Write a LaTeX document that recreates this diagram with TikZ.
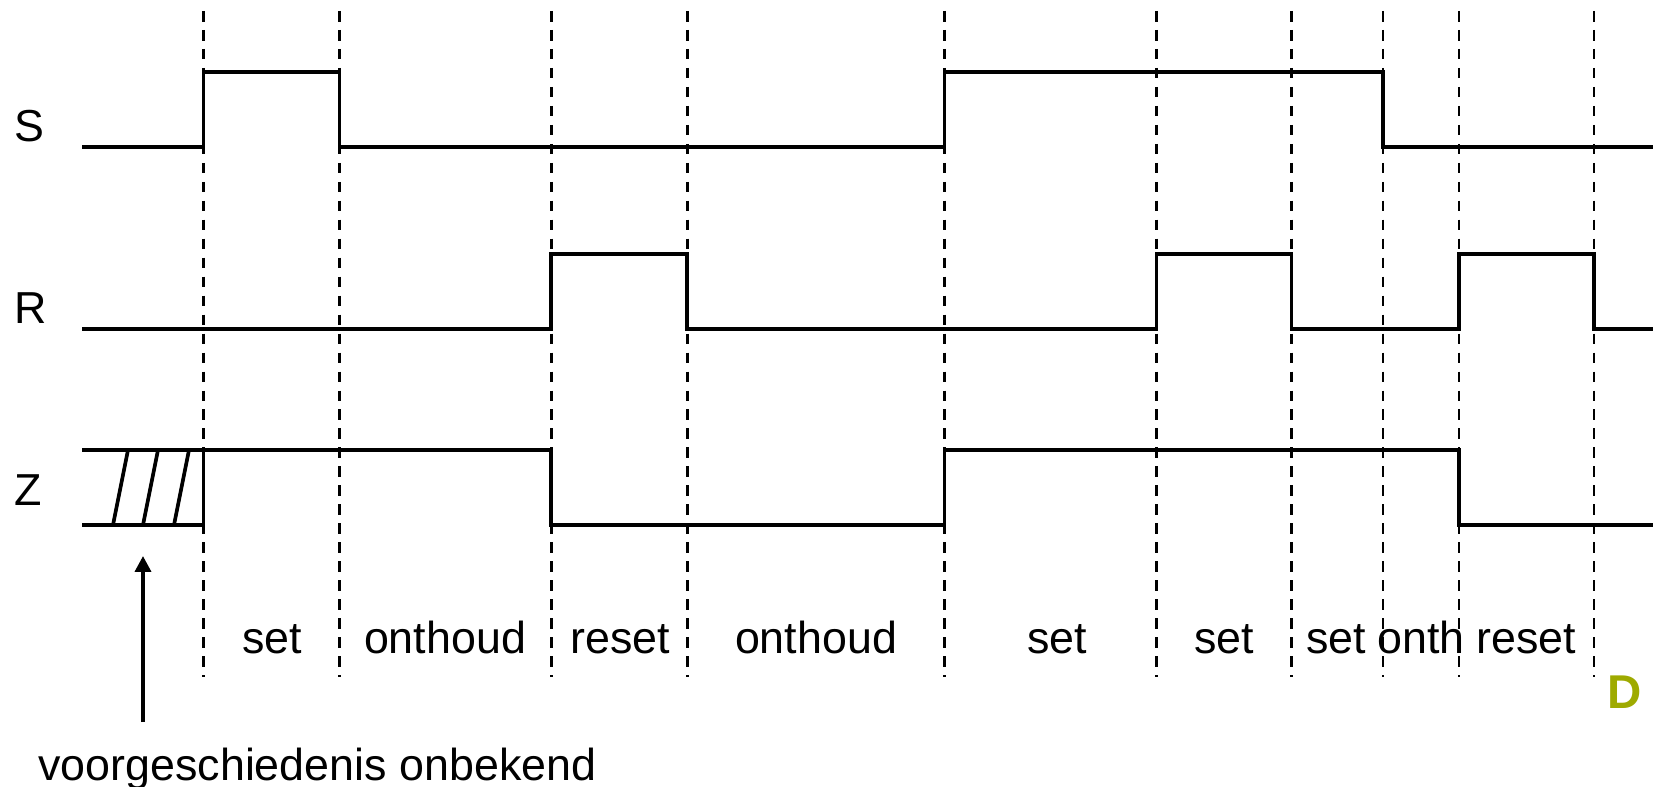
\documentclass[tikz,border=0pt]{standalone}
\usepackage{fontspec}
\setmainfont{Liberation Sans}
\usetikzlibrary{arrows.meta}
\usepackage{xcolor}
\definecolor{logogreen}{HTML}{9EAA00}

\begin{document}
\begin{tikzpicture}[x=0.02cm, y=-0.02cm,
    sig/.style={line width=2.1pt},
    tick/.style={line width=1.4pt, dash pattern=on 6pt off 4.8pt},
    lbl/.style={anchor=base, inner sep=0pt, font=\fontsize{25.5}{30}\selectfont}]
  \useasboundingbox (0,0) rectangle (1653,787);

  % signal names
  \node[lbl, anchor=base west] (s) at (14,142) {S};
  \node[lbl, anchor=base west] (r) at (14,323) {R};
  \node[lbl, anchor=base west] (z) at (14,505) {Z};

  % phase names
  \foreach \x/\t [count=\k] in {272/set, 445/onthoud, 620/reset, 816/onthoud,
      1057/set, 1224/set, 1336/set, 1421/onth, 1526/reset}
    \node[lbl] (ph\k) at (\x,653) {\t};

  % time marks
  \foreach \x in {203.5, 339.5, 551.3, 687.3, 944.6, 1156.5, 1291.4, 1383, 1459, 1594}
    \draw[tick] (\x,11) -- (\x,677);

  % S and R
  \draw[sig] (82,147) -- (203.5,147) |- (339.5,72) |- (944.6,147) |- (1383,72) |- (1653,147);
  \draw[sig] (82,329) -- (551.3,329) |- (687.3,254) |- (1156.5,329) |- (1291.4,254)
    |- (1459,329) |- (1594,254) |- (1653,329);

  % Z, unknown at the start
  \draw[sig] (82,450) -- (551.3,450) |- (944.6,525) |- (1459,450) |- (1653,525);
  \draw[sig] (82,525) -- (203.5,525) -- (203.5,450);
  \draw[sig] (113,525) -- (128,450) (143,525) -- (158,450) (174,525) -- (189,450);

  \coordinate (hbot) at (143,722);
  \coordinate (htop) at (143,556);
  \draw[sig, -{Triangle[length=9pt, width=9pt]}] (hbot) -- (htop);
  \node[lbl, anchor=base west] (hist) at (38,780) {voorgeschiedenis onbekend};

  \node[anchor=base west, inner sep=0pt, text=logogreen,
        font=\fontsize{27}{30}\selectfont\bfseries] (logo) at (1607,708) {D};
\end{tikzpicture}
\end{document}
